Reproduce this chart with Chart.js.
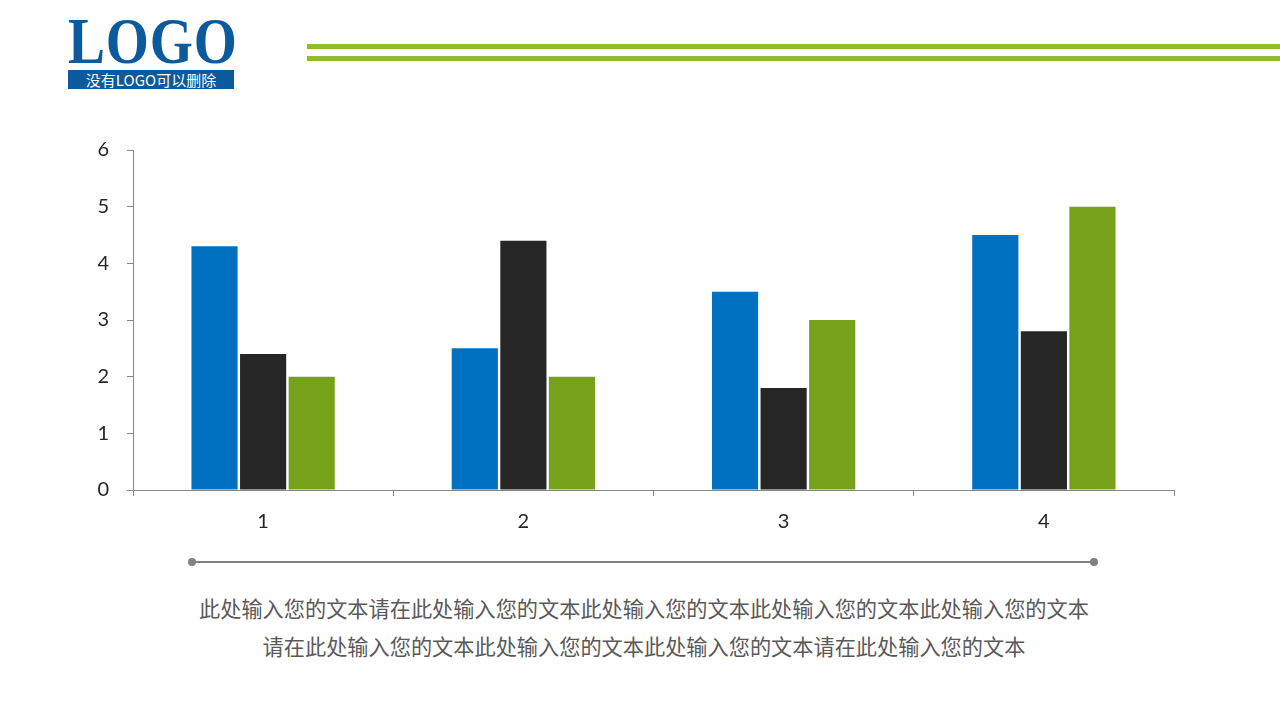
<!DOCTYPE html>
<html>
<head>
<meta charset="utf-8">
<script src="https://cdn.jsdelivr.net/npm/chart.js@4.4.0/dist/chart.umd.min.js"></script>
<style>
  body { margin: 0; width: 1280px; height: 720px; background: #fff; position: relative; overflow: hidden; }
  .logo { position: absolute; left: 68px; top: 8px; width: 166px; }
  .logo-word { font-family: "Liberation Serif", serif; font-weight: bold; font-size: 66px; color: #0b5a9e;
    display: inline-block; transform: scaleX(0.84); transform-origin: left top; line-height: 66px; letter-spacing: 1px; }
  .logo-bar { position: absolute; left: 68px; top: 70px; width: 166px; height: 19px; background: #0b5a9e;
    color: #fff; font-family: "Noto Sans CJK SC", sans-serif; font-size: 15px; line-height: 19px; text-align: center; }
  .green { position: absolute; left: 307px; right: 0; height: 5px; background: #8fbc2b; }
  #wrap { position: absolute; left: 0; top: 120px; width: 1280px; height: 430px; }
  .rule { position: absolute; left: 192px; top: 561px; width: 902px; height: 2px; background: #808080; }
  .dot { position: absolute; top: 558px; width: 8px; height: 8px; border-radius: 50%; background: #808080; }
  .caption { position: absolute; left: 4px; width: 1280px; top: 589px; text-align: center;
    font-family: "Noto Sans CJK SC", sans-serif; font-size: 21.2px; line-height: 38px; color: #595959; }
</style>
</head>
<body>
<div class="logo"><span class="logo-word">LOGO</span></div>
<div class="logo-bar">没有LOGO可以删除</div>
<div class="green" style="top:44px"></div>
<div class="green" style="top:56px"></div>
<div id="wrap"><canvas id="main-chart"></canvas></div>
<div class="rule"></div>
<div class="dot" style="left:188px"></div>
<div class="dot" style="left:1090px"></div>
<div class="caption">此处输入您的文本请在此处输入您的文本此处输入您的文本此处输入您的文本此处输入您的文本<br>请在此处输入您的文本此处输入您的文本此处输入您的文本请在此处输入您的文本</div>
<script>
const categories = ["1", "2", "3", "4"];
const series1 = [4.3, 2.5, 3.5, 4.5];
const series2 = [2.4, 4.4, 1.8, 2.8];
const series3 = [2.0, 2.0, 3.0, 5.0];

const tickFont = { family: "Lato, 'Liberation Sans', sans-serif", size: 20 };

new Chart(document.getElementById("main-chart"), {
  type: "bar",
  data: {
    labels: categories,
    datasets: [
      { label: "系列1", data: series1, backgroundColor: "#0070C0" },
      { label: "系列2", data: series2, backgroundColor: "#262626" },
      { label: "系列3", data: series3, backgroundColor: "#76A11A" }
    ]
  },
  options: {
    responsive: true,
    maintainAspectRatio: false,
    animation: false,
    layout: { padding: { left: 0, right: 106, top: 10, bottom: 0 } },
    datasets: { bar: { categoryPercentage: 0.56, barPercentage: 0.95 } },
    plugins: { legend: { display: false }, tooltip: { enabled: false } },
    scales: {
      x: {
        grid: { drawOnChartArea: false, drawTicks: true, tickLength: 6, color: "#888" },
        border: { color: "#888" },
        ticks: { font: tickFont, color: "#262626", padding: 14 },
        afterFit(scale) { scale.height = 60; }
      },
      y: {
        min: 0,
        max: 6,
        grid: { drawOnChartArea: false, drawTicks: true, tickLength: 6, color: "#888" },
        border: { color: "#888" },
        ticks: { stepSize: 1, font: tickFont, color: "#262626", padding: 18 },
        afterFit(scale) { scale.width = 133; }
      }
    }
  }
});
</script>
</body>
</html>
